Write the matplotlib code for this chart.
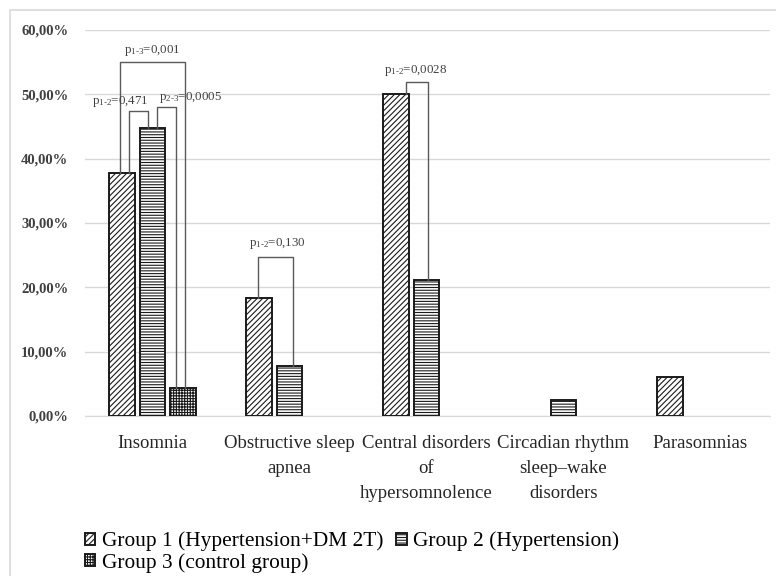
import numpy as np
import matplotlib
matplotlib.use("Agg")
import matplotlib.pyplot as plt
from matplotlib.patches import Rectangle
from matplotlib.ticker import FuncFormatter

plt.rcParams['font.family'] = ['Liberation Serif', 'DejaVu Serif']
plt.rcParams['mathtext.fontset'] = 'custom'
plt.rcParams['mathtext.rm'] = 'Liberation Serif'
plt.rcParams['mathtext.it'] = 'Liberation Serif'
plt.rcParams['hatch.linewidth'] = 0.8

# data
categories = ["Insomnia", "Obstructive sleep\napnea", "Central disorders\nof\nhypersomnolence",
              "Circadian rhythm\nsleep\u2013wake\ndisorders", "Parasomnias"]
group_names = ["Group 1 (Hypertension+DM 2T)", "Group 2 (Hypertension)", "Group 3 (control group)"]
group1 = [0.378, 0.184, 0.500, 0.0, 0.061]
group2 = [0.448, 0.078, 0.211, 0.025, 0.0]
group3 = [0.044, 0.0, 0.0, 0.0, 0.0]
hatches = ["//////", "------", "++++++"]

# p-value brackets: category, group a, group b, label
brackets = [
    (0, 0, 2, r"p$_{\mathrm{1\text{-}3}}$=0,001"),
    (0, 0, 1, r"p$_{\mathrm{1\text{-}2}}$=0,471"),
    (0, 1, 2, r"p$_{\mathrm{2\text{-}3}}$=0,0005"),
    (1, 0, 1, r"p$_{\mathrm{1\text{-}2}}$=0,130"),
    (2, 0, 1, r"p$_{\mathrm{1\text{-}2}}$=0,0028"),
]
# bracket geometry (x offsets from category centre, top y, label x offset, label y)
bracket_geom = [
    (-0.237, 0.237, 0.550, 0.0, 0.556),
    (-0.172, -0.033, 0.474, -0.237, 0.477),
    (0.033, 0.172, 0.480, 0.274, 0.484),
    (-0.230, 0.026, 0.247, -0.091, 0.256),
    (-0.150, 0.011, 0.519, -0.077, 0.525),
]

series = [group1, group2, group3]
x = np.arange(len(categories))
offsets = [-0.223, 0.0, 0.223]
width = 0.186

fig = plt.figure(figsize=(7.76, 5.76), dpi=100)
ax = fig.add_axes([0.1095, 0.278, 0.8825, 0.670])

handles = []
for vals, off, h, name in zip(series, offsets, hatches, group_names):
    vals = np.array(vals)
    keep = vals > 0
    b = ax.bar(x[keep] + off, vals[keep], width, color="white", edgecolor="#1a1a1a",
               linewidth=1.4, hatch=h, label=name, zorder=3)
    handles.append(b)

for (cat, ga, gb, lab), (xa, xb, ytop, tx, ty) in zip(brackets, bracket_geom):
    ya = series[ga][cat]
    yb = series[gb][cat]
    ax.plot([cat + xa, cat + xa, cat + xb, cat + xb], [ya, ytop, ytop, yb],
            color="#5a5a5a", lw=1.0, zorder=4)
    ax.text(cat + tx, ty, lab, ha="center", va="bottom", fontsize=9.3, color="#404040", zorder=5)

ax.set_xlim(-0.493, 4.507)
ax.set_ylim(0, 0.6)
ax.set_yticks(np.arange(0, 0.61, 0.1))
ax.yaxis.set_major_formatter(FuncFormatter(lambda v, p: f"{v*100:.2f}%".replace(".", ",")))
ax.set_xticks(x)
ax.set_xticklabels(categories, fontsize=13.5, color="#262626", linespacing=1.6)
ax.tick_params(axis="x", length=0, pad=14)
ax.tick_params(axis="y", length=0, pad=12, labelsize=10.5, labelcolor="#404040")
for t in ax.get_yticklabels():
    t.set_fontweight("bold")
ax.grid(axis="y", color="#d9d9d9", lw=1, zorder=0)
for s in ["top", "right", "left"]:
    ax.spines[s].set_visible(False)
ax.spines["bottom"].set_color("#d9d9d9")

order = [0, 2, 1]
fig.legend([handles[i] for i in order], [group_names[i] for i in order],
           loc="upper left", bbox_to_anchor=(0.109, 0.077), ncol=2, frameon=False,
           fontsize=15.4, handlelength=0.5, handleheight=0.5, handletextpad=0.3,
           columnspacing=0.6, labelspacing=0.08, borderpad=0, borderaxespad=0)

fig.patches.append(Rectangle((10 / 776, -0.1), 1.2, 1.1 - 10 / 576, transform=fig.transFigure,
                             fill=False, edgecolor="#d9d9d9", lw=1.2))

fig.savefig("out.png", dpi=100)
